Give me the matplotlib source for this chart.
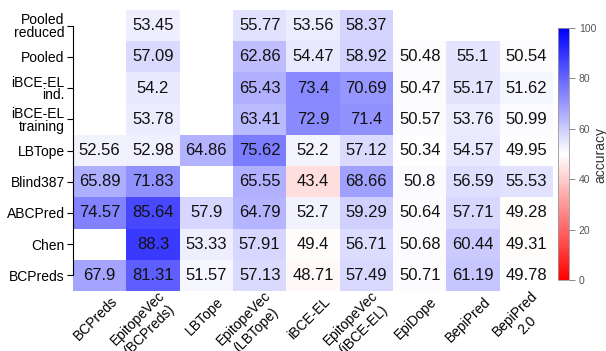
import numpy as np
import matplotlib
matplotlib.use("Agg")
import matplotlib.pyplot as plt

plt.rcParams['font.family'] = ['Liberation Sans', 'DejaVu Sans']

# Test datasets (rows, top to bottom) and predictors (columns)
datasets = ["Pooled\nreduced", "Pooled", "iBCE-EL\nind.", "iBCE-EL\ntraining",
            "LBTope", "Blind387", "ABCPred", "Chen", "BCPreds"]
methods = ["BCPreds", "EpitopeVec\n(BCPreds)", "LBTope", "EpitopeVec\n(LBTope)",
           "iBCE-EL", "EpitopeVec\n(iBCE-EL)", "EpiDope", "BepiPred", "BepiPred\n2.0"]

nan = np.nan
acc_pooled_reduced = [nan, 53.45, nan, 55.77, 53.56, 58.37, nan, nan, nan]
acc_pooled = [nan, 57.09, nan, 62.86, 54.47, 58.92, 50.48, 55.1, 50.54]
acc_ibce_ind = [nan, 54.2, nan, 65.43, 73.4, 70.69, 50.47, 55.17, 51.62]
acc_ibce_train = [nan, 53.78, nan, 63.41, 72.9, 71.4, 50.57, 53.76, 50.99]
acc_lbtope = [52.56, 52.98, 64.86, 75.62, 52.2, 57.12, 50.34, 54.57, 49.95]
acc_blind387 = [65.89, 71.83, nan, 65.55, 43.4, 68.66, 50.8, 56.59, 55.53]
acc_abcpred = [74.57, 85.64, 57.9, 64.79, 52.7, 59.29, 50.64, 57.71, 49.28]
acc_chen = [nan, 88.3, 53.33, 57.91, 49.4, 56.71, 50.68, 60.44, 49.31]
acc_bcpreds = [67.9, 81.31, 51.57, 57.13, 48.71, 57.49, 50.71, 61.19, 49.78]

cbar_ticks = [0, 20, 40, 60, 80, 100]

acc = np.ma.masked_invalid(np.array([
    acc_pooled_reduced, acc_pooled, acc_ibce_ind, acc_ibce_train,
    acc_lbtope, acc_blind387, acc_abcpred, acc_chen, acc_bcpreds]))

W, H = 606, 351
fig = plt.figure(figsize=(W / 100, H / 100), dpi=100)
ax = fig.add_axes([73 / W, (H - 291) / H, 480 / W, 281 / H])

cmap = plt.get_cmap("bwr_r")
mesh = ax.pcolormesh(acc, cmap=cmap, vmin=0, vmax=100)
ax.set_xlim(0, len(methods))
ax.set_ylim(len(datasets), 0)

for i in range(len(datasets)):
    for j in range(len(methods)):
        v = acc[i, j]
        if v is np.ma.masked:
            continue
        ax.text(j + 0.5, i + 0.5, f"{v:g}", ha="center", va="center",
                fontsize=12, color="#111111")

for s in ["top", "right", "bottom"]:
    ax.spines[s].set_visible(False)
ax.spines["left"].set_bounds(0.5, len(datasets) - 0.5)
ax.spines["left"].set_linewidth(0.8)
ax.set_yticks(np.arange(len(datasets)) + 0.5)
ax.set_yticklabels(datasets, fontsize=10, linespacing=0.9)
ax.tick_params(axis="y", length=4, width=0.8, pad=2)

ax.set_xticks(np.arange(len(methods)) + 0.5)
ax.set_xticklabels([])
ax.tick_params(axis="x", length=0)
for j, m in enumerate(methods):
    ax.annotate(m, xy=(j + 0.5, len(datasets)), xycoords="data",
                xytext=(11, -6), textcoords="offset points",
                rotation=45, rotation_mode="anchor", ha="right", va="center",
                multialignment="center", fontsize=10, linespacing=1.3)

cax = fig.add_axes([558 / W, (H - 280) / H, 11 / W, 252 / H])
cb = fig.colorbar(mesh, cax=cax, ticks=cbar_ticks)
cb.outline.set_edgecolor("#999999")
cb.outline.set_linewidth(0.6)
cax.tick_params(length=4, width=0.6, color="#777777", labelcolor="#555555",
                labelsize=7.5, pad=3)
fig.text(600 / W, 1 - 155 / H, "accuracy", rotation=90, ha="center",
         va="center", fontsize=10, color="#333333")

fig.savefig("out.png", dpi=100)
